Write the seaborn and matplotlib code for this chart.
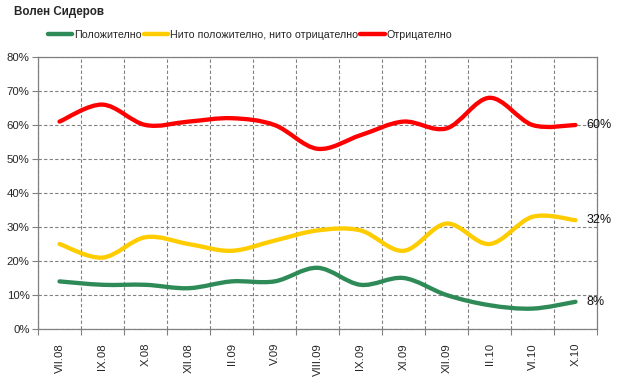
import numpy as np
import pandas as pd
import matplotlib
matplotlib.use("Agg")
import matplotlib.pyplot as plt
import seaborn as sns
from matplotlib.path import Path
from matplotlib.patches import PathPatch
from matplotlib.lines import Line2D
from matplotlib.ticker import FixedLocator, PercentFormatter

months = ["VII.08", "IX.08", "X.08", "XII.08", "II.09", "V.09", "VIII.09",
          "IX.09", "XI.09", "XII.09", "II.10", "VI.10", "X.10"]
positive = [14, 13, 13, 12, 14, 14, 18, 13, 15, 10, 7, 6, 8]
neutral = [25, 21, 27, 25, 23, 26, 29, 29, 23, 31, 25, 33, 32]
negative = [61, 66, 60, 61, 62, 60, 53, 57, 61, 59, 68, 60, 60]

series_names = ["Положително", "Нито положително, нито отрицателно", "Отрицателно"]
colors = ["#2e8b57", "#ffcc00", "#ff0000"]

data = pd.DataFrame({
    "month": months * 3,
    "pos": list(range(len(months))) * 3,
    "series": np.repeat(series_names, len(months)),
    "value": positive + neutral + negative,
})


def smooth_path(x, y):
    # excel-like smoothed line: cubic bezier segments through every point
    x = np.asarray(x, float)
    y = np.asarray(y, float)
    n = len(x)
    verts = [(x[0], y[0])]
    codes = [Path.MOVETO]
    for i in range(n - 1):
        p0 = max(i - 1, 0)
        p3 = min(i + 2, n - 1)
        c1 = (x[i] + (x[i + 1] - x[p0]) / 6, y[i] + (y[i + 1] - y[p0]) / 6)
        c2 = (x[i + 1] - (x[p3] - x[i]) / 6, y[i + 1] - (y[p3] - y[i]) / 6)
        verts += [c1, c2, (x[i + 1], y[i + 1])]
        codes += [Path.CURVE4] * 3
    return Path(verts, codes)


sns.set_style("white")
plt.rcParams["font.family"] = ["Liberation Sans", "DejaVu Sans"]

fig = plt.figure(figsize=(6.21, 3.79), dpi=100)
ax = fig.add_axes([38 / 621, 1 - 329 / 379, 559 / 621, 272 / 379])

for name, color in zip(series_names, colors):
    sub = data[data["series"] == name]
    ax.add_patch(PathPatch(smooth_path(sub["pos"], sub["value"]), facecolor="none",
                           edgecolor=color, lw=3.1, capstyle="round", joinstyle="round",
                           zorder=3))
    last = sub["value"].iloc[-1]
    ax.annotate(f"{last}%", (sub["pos"].iloc[-1], last), xytext=(8, 0),
                textcoords="offset points", va="center", ha="left", fontsize=9,
                color="#111111", annotation_clip=False)

ax.set_xlim(-0.5, len(months) - 0.5)
ax.set_ylim(0, 80)
ax.yaxis.set_major_locator(FixedLocator(np.arange(0, 81, 10)))
ax.yaxis.set_major_formatter(PercentFormatter(decimals=0))
ax.set_xticks(range(len(months)))
ax.set_xticklabels(months, rotation=90)
ax.xaxis.set_minor_locator(FixedLocator(np.arange(-0.5, len(months), 1)))
ax.tick_params(axis="x", which="major", length=0, pad=10, labelsize=8.2)
ax.tick_params(axis="x", which="minor", length=4, color="#808080", width=0.8, bottom=True)
ax.tick_params(axis="y", length=4, color="#808080", width=0.8, labelsize=8.2, pad=2,
               left=True)

ax.grid(False)
ax.yaxis.grid(True, color="#808080", ls=(0, (3, 2)), lw=0.8)
ax.xaxis.grid(True, which="minor", color="#808080", ls=(0, (3, 2)), lw=0.8)
for sp in ax.spines.values():
    sp.set_color("#808080")
    sp.set_linewidth(0.9)
ax.set_xlabel("")
ax.set_ylabel("")

fig.text(14 / 621, 1 - 12 / 379, "Волен Сидеров", fontsize=8.4, fontweight="bold",
         va="center", ha="left")

handles = [Line2D([], [], color=c, lw=3.2) for c in colors]
fig.legend(handles, series_names, loc="center", bbox_to_anchor=(250 / 621, 1 - 35 / 379),
           ncol=3, frameon=False, fontsize=7.7, handlelength=2.3, handletextpad=0.15,
           columnspacing=0.2)

fig.savefig("out.png", dpi=100, facecolor="white")
